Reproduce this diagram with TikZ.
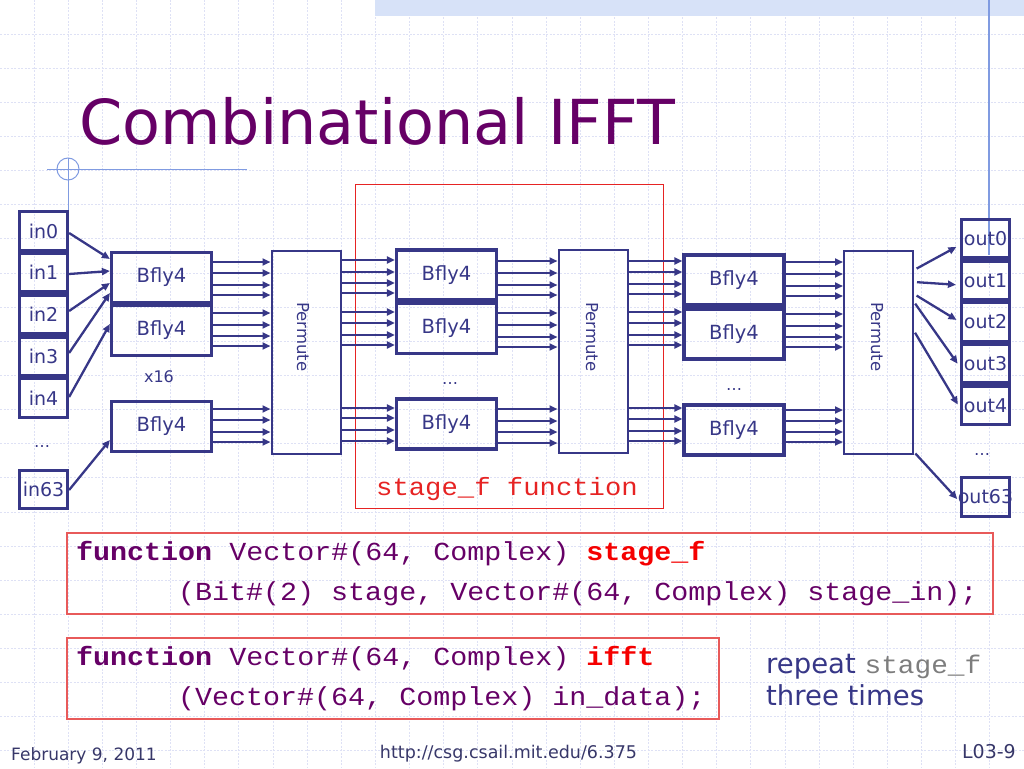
\documentclass[tikz,border=0pt]{standalone}
\usepackage{fontspec}
\setmainfont{DejaVu Sans}
\newfontfamily\codefont[FakeStretch=1.09]{Liberation Mono}
\usetikzlibrary{arrows.meta}
\definecolor{nv}{RGB}{55,55,135}
\definecolor{ttl}{RGB}{102,0,102}
\definecolor{gridc}{RGB}{222,225,245}
\definecolor{deco}{RGB}{128,155,225}
\definecolor{barc}{RGB}{215,226,248}
\definecolor{redc}{RGB}{230,35,35}
\definecolor{codered}{RGB}{245,0,0}
\definecolor{boxred}{RGB}{232,90,90}
\definecolor{foot}{RGB}{55,55,105}
\definecolor{graytxt}{RGB}{125,125,125}
\begin{document}
\begin{tikzpicture}[x=1pt,y=-1pt,
  gridline/.style={draw=gridc, line width=1pt, dash pattern=on 2pt off 1.5pt},
  iobox/.style={draw=nv, line width=3.2pt, minimum width=48pt, minimum height=38.5pt, inner sep=0pt, text=nv, font=\fontsize{19}{22}\selectfont},
  bfly/.style={draw=nv, line width=3.2pt, minimum width=100pt, minimum height=50pt, inner sep=0pt, text=nv, font=\fontsize{19.5}{22}\selectfont},
  perm/.style={draw=nv, line width=2pt, minimum width=69pt, minimum height=203pt, inner sep=0pt},
  permlbl/.style={rotate=-90, text=nv, font=\fontsize{16.5}{20}\selectfont, inner sep=0pt},
  arr/.style={draw=nv, line width=2.3pt, -{Triangle[length=8pt,width=7pt]}},
  smalltxt/.style={text=nv, font=\fontsize{16}{19}\selectfont, inner sep=0pt, anchor=base},
  codebox/.style={draw=boxred, line width=1.3pt, inner sep=0pt},
  codetxt/.style={text=ttl, font=\codefont\fontsize{26}{30}\selectfont, inner sep=0pt, anchor=base west},
  foottxt/.style={text=foot, inner sep=0pt, anchor=base}
]
\useasboundingbox (0,0) rectangle (1024,768);
% background grid
\foreach \k in {1,...,29} \draw[gridline] (\k*34.133,0) -- (\k*34.133,768);
\foreach \k in {1,...,22} \draw[gridline] (0,\k*34.133) -- (1024,\k*34.133);
% template decorations
\fill[barc] (375,0) rectangle (1024,16);
\draw[deco, line width=1.5pt] (989,0) -- (989,255);
\draw[deco, line width=1pt] (47,169) -- (247,169);
\draw[deco, line width=1pt] (68,169) circle[radius=11];
\draw[deco, line width=1pt] (68,158) -- (68,211);
% title
\node[anchor=base west, text=ttl, font=\fontsize{62}{70}\selectfont, inner sep=0pt] (title) at (79,144) {Combinational IFFT};
% stage_f frame
\draw[redc, line width=1pt] (355,184) rectangle (663,508);
\node[text=redc, font=\codefont\fontsize{25}{28}\selectfont, anchor=base, inner sep=0pt] (sflbl) at (507,495) {stage\_f function};
% inputs
\node[iobox] (in0) at (43.5,231) {\makebox[0pt]{in0}};
\node[iobox] (in1) at (43.5,272.75) {\makebox[0pt]{in1}};
\node[iobox] (in2) at (43.5,314.5) {\makebox[0pt]{in2}};
\node[iobox] (in3) at (43.5,356.25) {\makebox[0pt]{in3}};
\node[iobox] (in4) at (43.5,398) {\makebox[0pt]{in4}};
\node[iobox] (in63) at (43.5,489.5) {\makebox[0pt]{in63}};
\node[smalltxt] (indots) at (42,447) {…};
% stage 1
\node[bfly] (s1a) at (161.5,277.5) {Bfly4};
\node[bfly] (s1b) at (161.5,330.5) {Bfly4};
\node[bfly] (s1c) at (161.5,426.5) {Bfly4};
\node[smalltxt] (x16) at (159,382) {x16};
\node[perm] (p1) at (306,352.5) {};
\node[permlbl] (p1l) at (303,337) {Permute};
% stage 2
\node[bfly] (s2a) at (446.5,275) {Bfly4};
\node[bfly] (s2b) at (446.5,328.5) {Bfly4};
\node[bfly] (s2c) at (446.5,424) {Bfly4};
\node[smalltxt] (s2dots) at (450,384) {…};
\node[perm] (p2) at (593,351.5) {};
\node[permlbl] (p2l) at (592,337) {Permute};
% stage 3
\node[bfly] (s3a) at (734,280) {Bfly4};
\node[bfly] (s3b) at (734,334) {Bfly4};
\node[bfly] (s3c) at (734,430) {Bfly4};
\node[smalltxt] (s3dots) at (734,390) {…};
\node[perm] (p3) at (878.5,352) {};
\node[permlbl] (p3l) at (877,337) {Permute};
% outputs
\node[iobox] (out0) at (985.5,238.5) {\makebox[0pt]{out0}};
\node[iobox] (out1) at (985.5,280.25) {\makebox[0pt]{out1}};
\node[iobox] (out2) at (985.5,322) {\makebox[0pt]{out2}};
\node[iobox] (out3) at (985.5,363.75) {\makebox[0pt]{out3}};
\node[iobox] (out4) at (985.5,405.5) {\makebox[0pt]{out4}};
\node[iobox] (out63) at (985.5,497) {\makebox[0pt]{out63}};
\node[smalltxt] (outdots) at (982,455) {…};
% input arrows
\draw[arr] (in0.east |- 0,233) -- (s1a.west |- 0,259);
\draw[arr] (in1.east |- 0,274) -- (s1a.west |- 0,271);
\draw[arr] (in2.east |- 0,311) -- (s1a.west |- 0,283);
\draw[arr] (in3.east |- 0,353) -- (s1a.west |- 0,293);
\draw[arr] (in4.east |- 0,397) -- (s1b.west |- 0,324);
\draw[arr] (in63.east |- 0,490) -- (s1c.west |- 0,440);
% column A: stage 1 -> permute 1
\foreach \y in {262,273,285,295} \draw[arr] (s1a.east |- 0,\y) -- (p1.west |- 0,\y);
\foreach \y in {313,325,336,346} \draw[arr] (s1b.east |- 0,\y) -- (p1.west |- 0,\y);
\foreach \y in {409,420,432,442} \draw[arr] (s1c.east |- 0,\y) -- (p1.west |- 0,\y);
% column B: permute 1 -> stage 2
\foreach \y in {260,272,283,293} \draw[arr] (p1.east |- 0,\y) -- (s2a.west |- 0,\y);
\foreach \y in {312,323,335,345} \draw[arr] (p1.east |- 0,\y) -- (s2b.west |- 0,\y);
\foreach \y in {408,418,430,441} \draw[arr] (p1.east |- 0,\y) -- (s2c.west |- 0,\y);
% column C: stage 2 -> permute 2
\foreach \y in {261,273,285,295} \draw[arr] (s2a.east |- 0,\y) -- (p2.west |- 0,\y);
\foreach \y in {313,325,337,347} \draw[arr] (s2b.east |- 0,\y) -- (p2.west |- 0,\y);
\foreach \y in {409,421,432,443} \draw[arr] (s2c.east |- 0,\y) -- (p2.west |- 0,\y);
% column D: permute 2 -> stage 3
\foreach \y in {261,272,284,294} \draw[arr] (p2.east |- 0,\y) -- (s3a.west |- 0,\y);
\foreach \y in {312,323,335,345} \draw[arr] (p2.east |- 0,\y) -- (s3b.west |- 0,\y);
\foreach \y in {408,419,431,441} \draw[arr] (p2.east |- 0,\y) -- (s3c.west |- 0,\y);
% column E: stage 3 -> permute 3
\foreach \y in {262,274,286,296} \draw[arr] (s3a.east |- 0,\y) -- (p3.west |- 0,\y);
\foreach \y in {314,326,337,347} \draw[arr] (s3b.east |- 0,\y) -- (p3.west |- 0,\y);
\foreach \y in {410,421,432,442} \draw[arr] (s3c.east |- 0,\y) -- (p3.west |- 0,\y);
% output arrows
\draw[arr, shorten <=3pt, shorten >=4pt] (p3.east |- 0,270) -- (out0.west |- 0,245);
\draw[arr, shorten <=3pt, shorten >=4pt] (p3.east |- 0,282) -- (out1.west |- 0,285);
\draw[arr, shorten <=3pt, shorten >=4pt] (p3.east |- 0,294) -- (out2.west |- 0,322);
\draw[arr, shorten <=2pt, shorten >=4pt] (p3.east |- 0,302) -- (out3.west |- 0,367);
\draw[arr, shorten <=2pt, shorten >=4pt] (p3.east |- 0,331) -- (out4.west |- 0,408);
\draw[arr, shorten <=2pt, shorten >=4pt] (p3.east |- 0,452) -- (out63.west |- 0,502);
% code boxes
\node[codebox, minimum width=926pt, minimum height=81pt] (cb1) at (530,573.5) {};
\node[codebox, minimum width=652pt, minimum height=81pt] (cb2) at (393,678.5) {};
\node[codetxt] (c1) at (76,560) {\textbf{function} Vector\#(64, Complex) \textcolor{codered}{\textbf{stage\_f}}};
\node[codetxt] (c2) at (178,600) {(Bit\#(2) stage, Vector\#(64, Complex) stage\_in);};
\node[codetxt] (c3) at (76,665) {\textbf{function} Vector\#(64, Complex) \textcolor{codered}{\textbf{ifft}}};
\node[codetxt] (c4) at (178,705) {(Vector\#(64, Complex) in\_data);};
% side note
\node[anchor=base west, text=nv, font=\fontsize{27.5}{33}\selectfont, inner sep=0pt] (rep) at (766,673) {repeat {\codefont\color{graytxt}\fontsize{25.5}{30}\selectfont stage\_f}};
\node[anchor=base west, text=nv, font=\fontsize{27.5}{33}\selectfont, inner sep=0pt] (three) at (766,705) {three times};
% footer
\node[foottxt, anchor=base west, font=\fontsize{17}{20}\selectfont] (date) at (11,760) {February 9, 2011};
\node[foottxt, font=\fontsize{17.5}{21}\selectfont] (url) at (508.5,758) {http://csg.csail.mit.edu/6.375};
\node[foottxt, anchor=base east, font=\fontsize{19}{22}\selectfont] (slide) at (1016,758) {L03-9};
\end{tikzpicture}
\end{document}
